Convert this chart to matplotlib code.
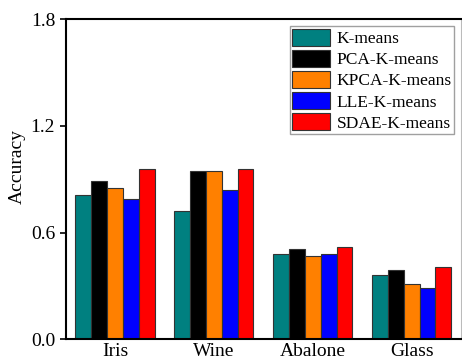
import numpy as np
import matplotlib.pyplot as plt

plt.rcParams['font.family'] = ['Liberation Serif', 'DejaVu Serif']

datasets = ['Iris', 'Wine', 'Abalone', 'Glass']
methods = ['K-means', 'PCA-K-means', 'KPCA-K-means', 'LLE-K-means', 'SDAE-K-means']
kmeans = [0.809, 0.720, 0.478, 0.359]
pca_kmeans = [0.888, 0.948, 0.508, 0.390]
kpca_kmeans = [0.849, 0.948, 0.467, 0.310]
lle_kmeans = [0.789, 0.837, 0.480, 0.290]
sdae_kmeans = [0.957, 0.957, 0.518, 0.409]
colors = ['#008080', '#000000', '#FF8000', '#0000FF', '#FF0000']

series = [kmeans, pca_kmeans, kpca_kmeans, lle_kmeans, sdae_kmeans]

fig = plt.figure(figsize=(4.62, 3.63), dpi=100)
ax = fig.add_axes([0.142, 0.0655, 0.856, 0.8815])

x = np.arange(len(datasets))
w = 0.16
for i, (vals, name, c) in enumerate(zip(series, methods, colors)):
    ax.bar(x + (i - 2) * w, vals, w, color=c, edgecolor='#333333',
           linewidth=0.8, label=name)

ax.set_xlim(-0.5, 3.5)
ax.set_ylim(0, 1.8)
ax.set_yticks([0.0, 0.6, 1.2, 1.8])
ax.set_yticklabels(['0.0', '0.6', '1.2', '1.8'])
ax.set_xticks(x)
ax.set_xticklabels(datasets)
ax.tick_params(axis='y', direction='out', length=4, width=1.2, labelsize=14)
ax.tick_params(axis='x', length=0, labelsize=14, pad=3)
ax.set_ylabel('Accuracy', fontsize=14)
ax.yaxis.set_label_coords(-0.10, 0.54)
for s in ax.spines.values():
    s.set_linewidth(1.5)
ax.spines['right'].set_color('#bbbbbb')
ax.spines['right'].set_linewidth(0.8)

leg = ax.legend(loc='upper right', fontsize=12.5, frameon=True, fancybox=False,
                edgecolor='#888888', handlelength=2.2, handleheight=1.15,
                labelspacing=0.15, handletextpad=0.35, borderpad=0.15,
                borderaxespad=0.4)
leg.get_frame().set_linewidth(1.0)

fig.savefig('out.png', dpi=100)
